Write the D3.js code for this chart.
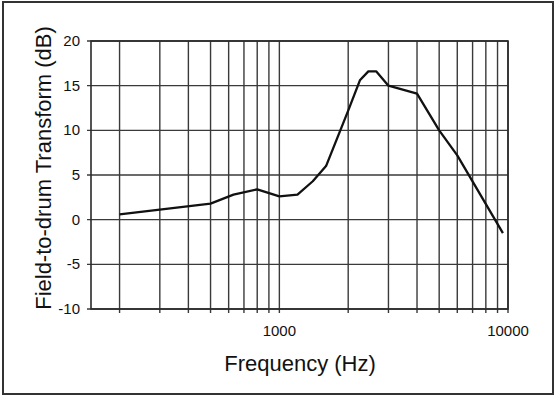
<!DOCTYPE html>
<html>
<head>
<meta charset="utf-8">
<script src="https://cdn.jsdelivr.net/npm/d3@7"></script>
<style>
  body { margin: 0; background: #fff; }
  text { font-family: 'Liberation Sans', Arial, sans-serif; fill: #111; }
</style>
</head>
<body>
<div id="chart"></div>
<script>
// values
let freqs = [200, 500, 630, 800, 1000, 1200, 1400, 1600, 2000, 2250, 2450, 2650, 3000, 4000, 5000, 6000, 9500];
let dbs   = [0.6, 1.8, 2.8, 3.4, 2.6, 2.8, 4.3, 6.0, 12.2, 15.6, 16.6, 16.6, 15.0, 14.1, 10.0, 7.2, -1.5];

let yTicks = [-10, -5, 0, 5, 10, 15, 20];
let xLabels = [1000, 10000];
let xGrid = [200, 300, 400, 500, 600, 700, 800, 900, 1000,
             2000, 3000, 4000, 5000, 6000, 7000, 8000, 9000, 10000];

const svg = d3.select('#chart').append('svg')
    .attr('width', 556)
    .attr('height', 397);

// outer frame
svg.append('rect')
    .attr('x', 3)
    .attr('y', 2)
    .attr('width', 550)
    .attr('height', 392)
    .attr('fill', '#fff')
    .attr('stroke', '#333')
    .attr('stroke-width', 2);

let x = d3.scaleLog()
    .domain([150, 10000])
    .range([91, 508]);

let y = d3.scaleLinear()
    .domain([-10, 20])
    .range([309, 41]);

// grid
xGrid.forEach(f =>
    svg.append('line')
        .attr('x1', x(f))
        .attr('x2', x(f))
        .attr('y1', y(20))
        .attr('y2', y(-10) + 4)
        .attr('stroke', '#3a3a3a')
        .attr('stroke-width', 1.4)
);

yTicks.forEach(t =>
    svg.append('line')
        .attr('x1', x(150) - 4)
        .attr('x2', x(10000))
        .attr('y1', y(t))
        .attr('y2', y(t))
        .attr('stroke', '#3a3a3a')
        .attr('stroke-width', 1.4)
);

// plot border
svg.append('rect')
    .attr('x', x(150))
    .attr('y', y(20))
    .attr('width', x(10000) - x(150))
    .attr('height', y(-10) - y(20))
    .attr('fill', 'none')
    .attr('stroke', '#2a2a2a')
    .attr('stroke-width', 1.6);

// tick labels
yTicks.forEach(t =>
    svg.append('text')
        .attr('x', 80)
        .attr('y', y(t) + 5)
        .attr('text-anchor', 'end')
        .attr('font-size', 15)
        .text(t.toString())
);

xLabels.forEach(f =>
    svg.append('text')
        .attr('x', x(f))
        .attr('y', 336)
        .attr('text-anchor', 'middle')
        .attr('font-size', 15)
        .text(f.toString())
);

// axis titles
svg.append('text')
    .attr('x', 300)
    .attr('y', 371)
    .attr('text-anchor', 'middle')
    .attr('font-size', 22)
    .text('Frequency (Hz)');

svg.append('text')
    .attr('transform', 'translate(51,168) rotate(-90)')
    .attr('text-anchor', 'middle')
    .attr('font-size', 22)
    .text('Field-to-drum Transform (dB)');

// the curve
let line = d3.line()
    .x(d => x(d[0]))
    .y(d => y(d[1]));

svg.append('path')
    .datum(freqs.map((f, i) => [f, dbs[i]]))
    .attr('d', line)
    .attr('fill', 'none')
    .attr('stroke', '#111')
    .attr('stroke-width', 2.3)
    .attr('stroke-linejoin', 'round');
</script>
</body>
</html>
